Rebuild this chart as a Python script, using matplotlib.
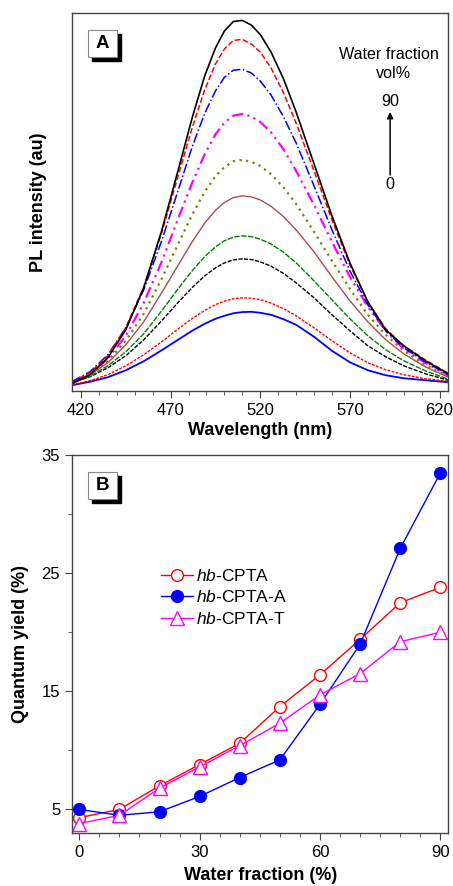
import numpy as np
import matplotlib
matplotlib.use("Agg")
import matplotlib.pyplot as plt
from matplotlib.patches import Rectangle

plt.rcParams['font.family'] = ['Liberation Sans', 'DejaVu Sans']
plt.rcParams['mathtext.fontset'] = 'custom'
plt.rcParams['mathtext.it'] = 'Liberation Sans:italic'
plt.rcParams['mathtext.rm'] = 'Liberation Sans'

# ---- panel A: PL spectra (intensity, arbitrary units)
wavelength = [415, 425, 435, 445, 455, 465, 475, 482, 489, 495, 500, 505, 510,
              515, 520, 526, 533, 540, 550, 560, 570, 580, 590, 600, 612, 625]
pl_90 = [7, 16, 33, 61, 103, 160, 226, 273, 315, 343, 360, 369.5, 370.6,
         366, 356.5, 339, 312, 279, 227, 175, 128, 89, 61, 45, 30, 17]
pl_80 = [8, 18, 35, 63, 104, 158, 220, 263, 301, 327, 342, 350.6, 351.6,
         347, 339, 323, 298, 268, 220, 171, 126, 89, 62, 45, 31, 17]
pl_70 = [9, 19, 36, 63, 101, 150, 205, 244, 277.5, 300, 313.6, 320.8, 321.7,
         318, 310, 296, 274, 248, 205, 161, 120, 86, 60, 43, 29, 16]
pl_60 = [9, 17, 32, 55, 88, 129, 176, 208, 236.7, 256.5, 268.3, 275.3, 277,
         274.6, 269, 258.6, 241.6, 220, 186, 149, 114, 84, 60, 42, 28, 15]
pl_50 = [8, 16, 30, 50, 77, 112, 150, 176, 199, 214.6, 224, 229.6, 231,
         229.2, 225, 216.7, 203.4, 187, 159, 130, 102, 76, 56, 40, 26, 14.5]
pl_40 = [9, 16, 28, 46, 69, 98, 128, 149, 167.7, 180.5, 188.4, 193.3, 195,
         194, 191, 184.6, 174.2, 161, 139, 114, 90, 69, 51, 37, 24, 13.5]
pl_30 = [8, 14.5, 25, 39, 57, 80, 104, 120, 134.2, 144, 150, 153.7, 155,
         154.2, 151.7, 146.8, 138.5, 128, 110, 91, 72, 55, 41, 30, 20, 11.5]
pl_20 = [8, 14, 23, 35, 51, 70, 90, 103.2, 114.9, 123, 127.9, 131, 132,
         131.3, 129, 124.7, 117.4, 108, 93, 76, 60, 45, 34, 25, 17, 10.5]
pl_10 = [6, 10, 16, 25, 36, 49, 63, 72.2, 80.4, 86.1, 89.7, 92, 93,
         92.6, 91.1, 87.8, 82.1, 75, 63, 50, 38, 28, 21, 16, 12, 9.5]
pl_0 = [5.5, 9, 13.5, 20.5, 29.5, 40.5, 52, 60, 67, 72, 75, 77.5, 78.7,
        79, 78, 76, 71.6, 66, 54, 40, 28.5, 20.5, 15.5, 12.5, 10.5, 8.5]

spectra = [pl_0, pl_10, pl_20, pl_30, pl_40, pl_50, pl_60, pl_70, pl_80, pl_90]
colors_a = ['#0000ff', '#ff0000', '#000000', '#008000', '#a84e4e',
            '#808000', '#ff00ff', '#0000ff', '#ff0000', '#000000']
styles_a = ['-', (0, (2, 1)), (0, (3, 1)), (0, (4, 1)), '-',
            (0, (1, 2)), (0, (5, 2, 1, 2, 1, 2)), '-.', '--', '-']
widths_a = [1.3, 1.0, 1.0, 1.0, 1.0, 1.6, 1.6, 1.1, 1.1, 1.2]

# ---- panel B: quantum yield
water = [0, 10, 20, 30, 40, 50, 60, 70, 80, 90]
qy_cpta = [4.3, 5.0, 7.0, 8.8, 10.6, 13.7, 16.4, 19.4, 22.5, 23.8]
qy_cpta_a = [5.0, 4.5, 4.8, 6.1, 7.7, 9.2, 13.9, 19.0, 27.1, 33.5]
qy_cpta_t = [3.8, 4.5, 6.8, 8.6, 10.4, 12.3, 14.7, 16.5, 19.2, 20.0]

fig = plt.figure(figsize=(4.53, 8.86), dpi=100)
ax1 = fig.add_axes([0.159, 0.559, 0.831, 0.4263])
ax2 = fig.add_axes([0.159, 0.0598, 0.831, 0.4266])

for y, c, ls, lw in zip(spectra, colors_a, styles_a, widths_a):
    ax1.plot(wavelength, y, color=c, linestyle=ls, lw=lw)

ax1.set_xlim(415, 625)
ax1.set_ylim(0, 378)
ax1.set_xticks([420, 470, 520, 570, 620])
ax1.set_xticks(np.arange(420, 630, 10), minor=True)
ax1.set_yticks([])
ax1.set_xlabel('Wavelength (nm)', fontsize=13, fontweight='bold', labelpad=3)
ax1.set_ylabel('PL intensity (au)', fontsize=13, fontweight='bold', labelpad=18)

ax1.text(0.842, 0.891, 'Water fraction', transform=ax1.transAxes,
         ha='center', va='center', fontsize=11.6)
ax1.text(0.853, 0.841, 'vol%', transform=ax1.transAxes,
         ha='center', va='center', fontsize=11.6)
ax1.text(0.845, 0.767, '90', transform=ax1.transAxes,
         ha='center', va='center', fontsize=11.6)
ax1.text(0.845, 0.547, '0', transform=ax1.transAxes,
         ha='center', va='center', fontsize=11.6)
ax1.annotate('', xy=(0.845, 0.738), xytext=(0.845, 0.571),
             xycoords='axes fraction',
             arrowprops=dict(arrowstyle='-|>', lw=1.1, color='k',
                             mutation_scale=9, shrinkA=0, shrinkB=0))

ax2.plot(water, qy_cpta, color='#ff0000', lw=1, marker='o', ms=8.5,
         mfc='white', mec='#ff0000', mew=1, label=r'$\it{hb}$-CPTA')
ax2.plot(water, qy_cpta_a, color='#0000ff', lw=1, marker='o', ms=8.5,
         mfc='#0000ff', mec='#0000ff', label=r'$\it{hb}$-CPTA-A')
ax2.plot(water, qy_cpta_t, color='#ff00ff', lw=1, marker='^', ms=10,
         mfc='white', mec='#ff00ff', mew=1, label=r'$\it{hb}$-CPTA-T')

ax2.set_xlim(-1.8, 92)
ax2.set_ylim(3, 35)
ax2.set_xticks([0, 30, 60, 90])
ax2.set_xticks(np.arange(0, 95, 5), minor=True)
ax2.set_yticks([5, 15, 25, 35])
ax2.set_yticks([10, 20, 30], minor=True)
ax2.set_xlabel('Water fraction (%)', fontsize=13, fontweight='bold', labelpad=5)
ax2.set_ylabel('Quantum yield (%)', fontsize=13, fontweight='bold', labelpad=9)
ax2.legend(loc='upper left', bbox_to_anchor=(0.2175, 0.7206), frameon=False,
           fontsize=12.5, handlelength=1.84, handletextpad=0.2,
           labelspacing=0.32, borderaxespad=0)

for ax, letter in [(ax1, 'A'), (ax2, 'B')]:
    for s in ax.spines.values():
        s.set_color('#444444')
        s.set_linewidth(1)
    ax.tick_params(axis='both', which='both', direction='out', color='#444444',
                   labelsize=12)
    ax.tick_params(which='major', length=5)
    ax.tick_params(which='minor', length=3)
    ax.add_patch(Rectangle((0.053, 0.873), 0.077, 0.0715, transform=ax.transAxes,
                           facecolor='black', edgecolor='black', zorder=5))
    ax.add_patch(Rectangle((0.0425, 0.8835), 0.077, 0.0715, transform=ax.transAxes,
                           facecolor='white', edgecolor='#888888', lw=0.8, zorder=6))
    ax.text(0.081, 0.919, letter, transform=ax.transAxes, ha='center',
            va='center', fontsize=13.5, fontweight='bold', zorder=7)

fig.savefig('out.png', dpi=100)
